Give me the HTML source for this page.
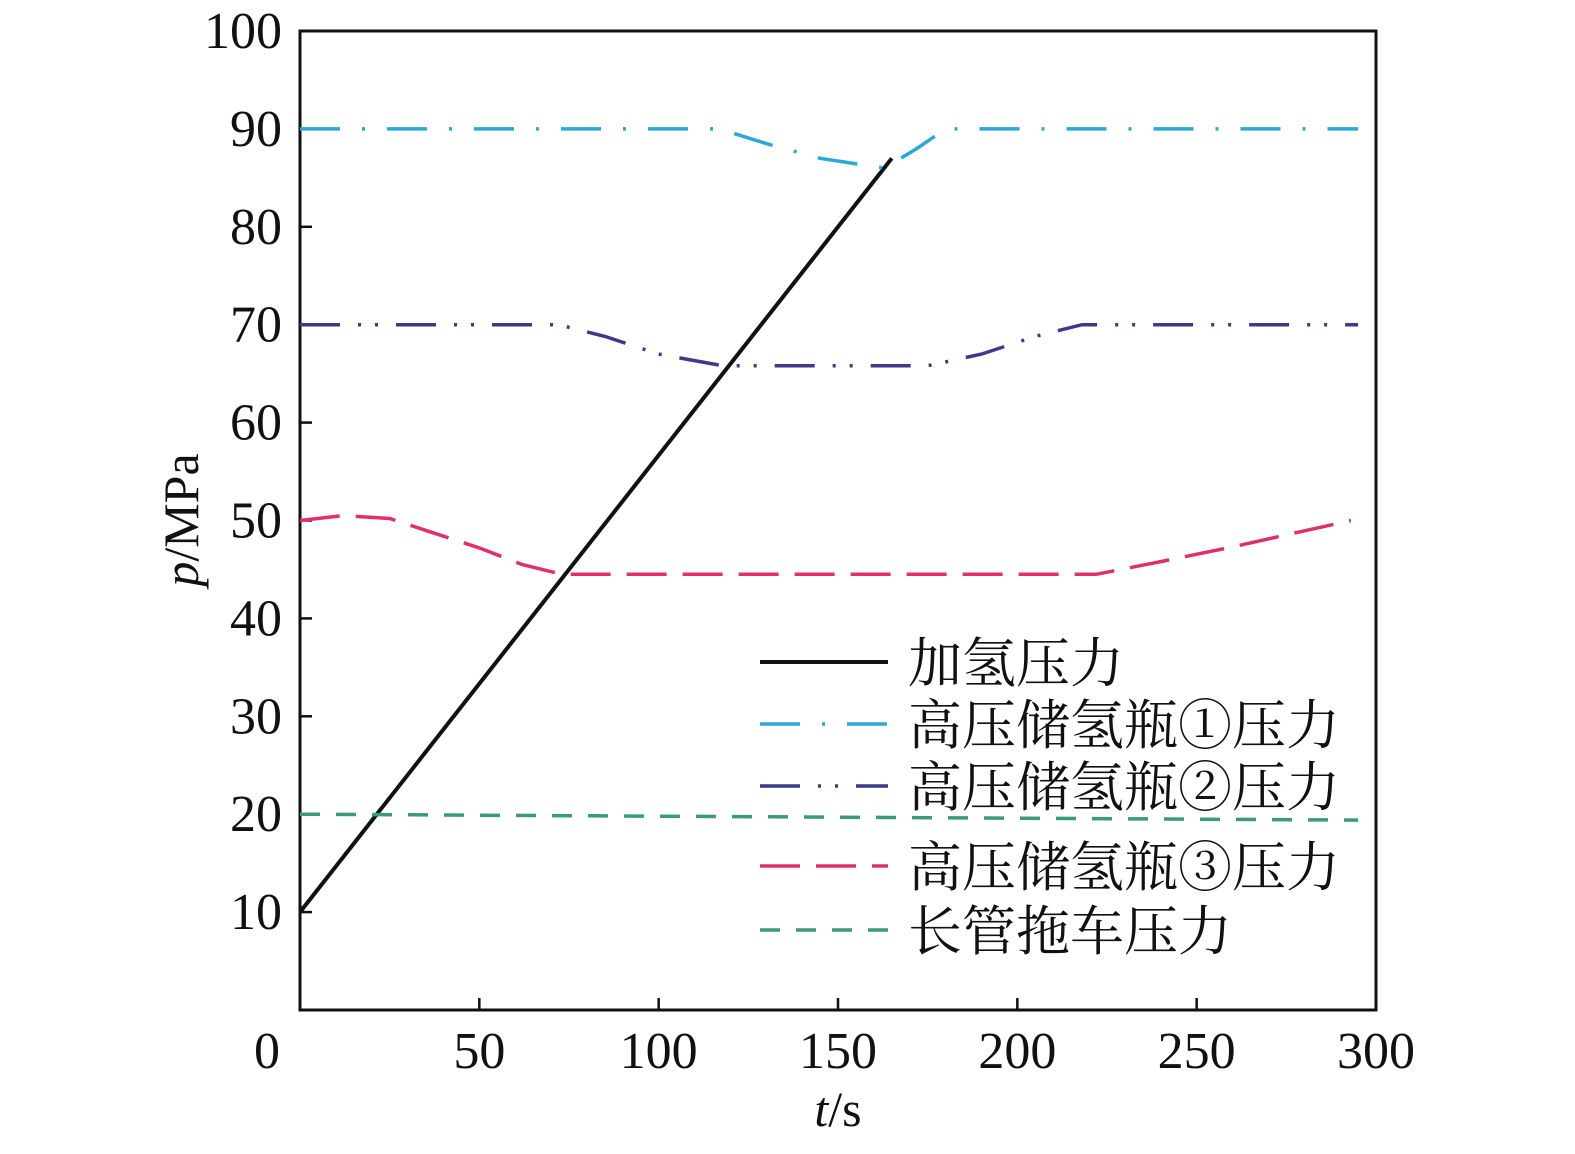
<!DOCTYPE html>
<html><head><meta charset="utf-8"><style>
body{margin:0;background:#fff}
svg text{font-family:"Liberation Serif","Noto Serif CJK SC",serif;fill:#111}
</style></head><body>
<svg id="c" width="1575" height="1149" xmlns="http://www.w3.org/2000/svg"></svg>
<script>
const yTicks=[10,20,30,40,50,60,70,80,90,100];
const xTicks=[50,100,150,200,250,300];
const chargeT=[0,165];const chargeP=[10,87];
const s1T=[0,117,130,145,163,172,180,295];const s1P=[90,90,88.5,87,86,88,90,90];
const s2T=[0,72,85,100,118,175,190,205,218,295];const s2P=[70,70,68.8,67,65.8,65.8,67,68.8,70,70];
const s3T=[0,12,25,35,50,62,73,222,240,260,293];const s3P=[50,50.5,50.2,49,47.2,45.5,44.5,44.5,45.8,47.3,50];
const s4T=[0,295];const s4P=[20,19.4];
const names=['加氢压力','高压储氢瓶①压力','高压储氢瓶②压力','高压储氢瓶③压力','长管拖车压力'];
const X0=300,X1=1376,Y0=1010,Y1=31;
const xs=t=>X0+t*(X1-X0)/300, ys=p=>Y0-p*(Y0-Y1)/100;
const svg=document.getElementById('c');const NS='http://www.w3.org/2000/svg';
function mk(tag,a,parent){const e=document.createElementNS(NS,tag);for(const k in a)e.setAttribute(k,a[k]);(parent||svg).appendChild(e);return e;}
const frame=mk('rect',{x:X0,y:Y1,width:X1-X0,height:Y0-Y1,fill:'none',stroke:'#111','stroke-width':3});


yTicks.forEach(v=>{const y=ys(v);
 const t=mk('line',{x1:X0,x2:X0+12,y1:y,y2:y,stroke:'#111','stroke-width':2.5});
 
 
 const l=mk('text',{x:282,y:y+17,'text-anchor':'end','font-size':52});l.textContent=v;
 
 });
xTicks.forEach(v=>{const x=xs(v);
 const t=mk('line',{x1:x,x2:x,y1:Y0,y2:Y0-12,stroke:'#111','stroke-width':2.5});
 
 
 const l=mk('text',{x:x,y:1068,'text-anchor':'middle','font-size':52});l.textContent=v;
 
 });
const z=mk('text',{x:267,y:1068,'text-anchor':'middle','font-size':52});z.textContent='0';


const xt=mk('text',{x:838,y:1126,'text-anchor':'middle','font-size':50});xt.innerHTML='<tspan font-style="italic">t</tspan>/s';


const yt=mk('text',{x:0,y:0,'text-anchor':'middle','font-size':50,transform:'translate(198,520) rotate(-90)'});yt.innerHTML='<tspan font-style="italic">p</tspan>/MPa';


const styles=[
 {c:'#111',d:'',w:4},
 {c:'#2aa8d6',d:'40 22 3 22',w:3.5},
 {c:'#3d3a8a',d:'40 18 3 14 3 18',w:3.5},
 {c:'#e0306a',d:'40 16',w:3.5},
 {c:'#3a9a80',d:'20 16',w:3.5}];
const series=[[chargeT,chargeP],[s1T,s1P],[s2T,s2P],[s3T,s3P],[s4T,s4P]];
const sn=['charging-pressure-line','cylinder-1-line','cylinder-2-line','cylinder-3-line','tube-trailer-line'];
series.forEach((s,i)=>{const d=s[0].map((t,j)=>(j?'L':'M')+xs(t).toFixed(1)+' '+ys(s[1][j]).toFixed(1)).join(' ');
 const p=mk('path',{d:d,fill:'none',stroke:styles[i].c,'stroke-width':styles[i].w,'stroke-dasharray':styles[i].d});
 
 });
const ly=[662,724,786,866,930];
ly.forEach((y,i)=>{const g=mk('g',{});
 
 
 mk('line',{x1:760,x2:888,y1:y,y2:y,stroke:styles[i].c,'stroke-width':styles[i].w,'stroke-dasharray':styles[i].d},g);
 const t=mk('text',{x:908,y:y+20,'font-size':54},g);t.textContent=names[i];});
</script>
</body></html>
